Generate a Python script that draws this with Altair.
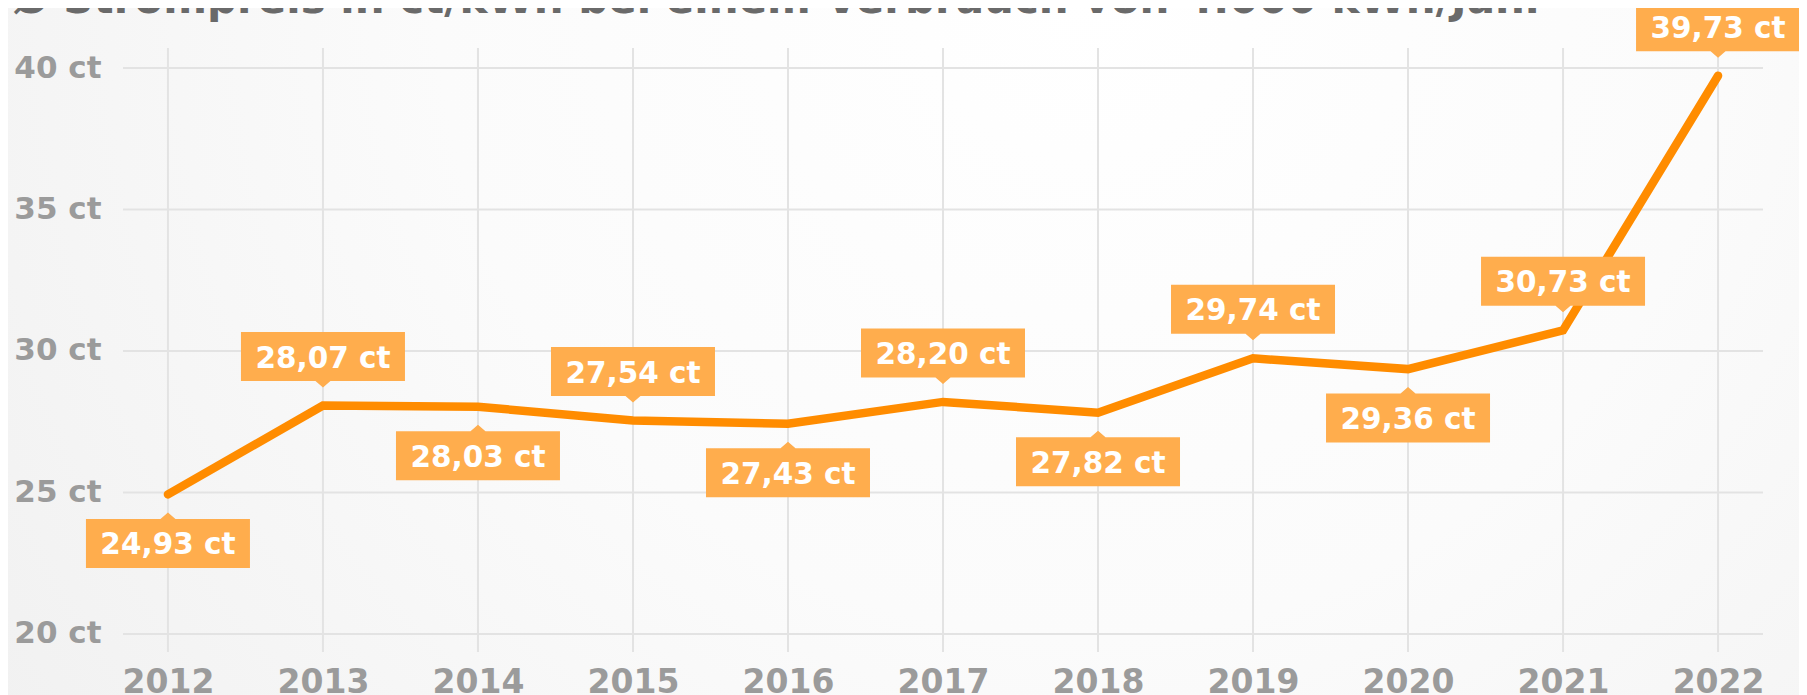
import altair as alt
import pandas as pd

# ---- data ----
years = [2012, 2013, 2014, 2015, 2016, 2017, 2018, 2019, 2020, 2021, 2022]
prices = [24.93, 28.07, 28.03, 27.54, 27.43, 28.20, 27.82, 29.74, 29.36, 30.73, 39.73]
label_side = ["below", "above", "below", "above", "below", "above",
              "below", "above", "below", "above", "above"]
y_ticks = [20, 25, 30, 35, 40]
title_text = "Ø Strompreis in ct/kWh bei einem Verbrauch von 4.000 kWh/Jahr"

df = pd.DataFrame({"year": years, "price": prices, "side": label_side})
df["label"] = [f"{p:.2f}".replace(".", ",") + " ct" for p in prices]
ygrid_df = pd.DataFrame({"price": y_ticks})
xgrid_df = pd.DataFrame({"year": years})

W, H = 1640, 604
PAD = {"left": 115, "top": 40, "right": 36, "bottom": 43}

LINE = "#FF8C00"
BOX = "#FFAD4D"
FONT = "DejaVu Sans"
GRID = "#e3e3e3"

# callout shapes (pixel units: symbol size 4 -> scale 1)
box_below = "M-82,24.5L-7.5,24.5L0,18L7.5,24.5L82,24.5L82,73.5L-82,73.5Z"
box_above = "M-82,-24.5L-7.5,-24.5L0,-18L7.5,-24.5L82,-24.5L82,-73.5L-82,-73.5Z"

x_scale = alt.Scale(domain=[2011.71, 2022.29], nice=False, zero=False)
y_scale = alt.Scale(domain=[19.36, 40.71], nice=False, zero=False)

x_enc = alt.X(
    "year:Q", scale=x_scale,
    axis=alt.Axis(values=years, format="d", title=None, labelPadding=14,
                  labelFontSize=33, labelOverlap=False, labelFlush=False, zindex=2),
)
y_enc = alt.Y(
    "price:Q", scale=y_scale,
    axis=alt.Axis(values=y_ticks, labelExpr="datum.value + ' ct'", title=None,
                  labelFontSize=31, labelPadding=22, labelBaseline="middle", zindex=2),
)

grad = {
    "gradient": "radial",
    "x1": 0.6, "y1": 0.3, "r1": 0,
    "x2": 0.6, "y2": 0.3, "r2": 0.8,
    "stops": [
        {"offset": 0, "color": "#ffffff"},
        {"offset": 0.45, "color": "#fbfbfb"},
        {"offset": 1, "color": "#efefef"},
    ],
}

bg = alt.Chart(pd.DataFrame({"a": [0]})).mark_rect(color=grad).encode(
    x=alt.value(-PAD["left"]), x2=alt.value(W + PAD["right"]),
    y=alt.value(-PAD["top"]), y2=alt.value(H + PAD["bottom"]),
)

hgrid = alt.Chart(ygrid_df).mark_rule(color=GRID, strokeWidth=2).encode(
    y=alt.Y("price:Q", scale=y_scale), x=alt.value(0), x2=alt.value(W)
)
vgrid = alt.Chart(xgrid_df).mark_rule(color=GRID, strokeWidth=2).encode(
    x=alt.X("year:Q", scale=x_scale), y=alt.value(0), y2=alt.value(H)
)

title = alt.Chart(pd.DataFrame({"t": [title_text]})).mark_text(
    align="left", baseline="alphabetic", fontSize=42, fontWeight="bold",
    color="#6a6a6a", font=FONT
).encode(text="t:N", x=alt.value(-110), y=alt.value(-35))

base = alt.Chart(df).encode(x=x_enc, y=y_enc)

line = base.mark_line(color=LINE, strokeWidth=8.5, strokeCap="round", strokeJoin="miter")

boxes = base.mark_point(filled=True, size=4, opacity=1, color=BOX, strokeWidth=0).encode(
    shape=alt.Shape("side:N",
                    scale=alt.Scale(domain=["above", "below"], range=[box_above, box_below]),
                    legend=None)
)

txt_kw = dict(color="white", font=FONT, fontWeight="bold", fontSize=29.5,
              align="center", baseline="alphabetic")
text_below = base.transform_filter(alt.datum.side == "below").mark_text(dy=60, **txt_kw).encode(text="label:N")
text_above = base.transform_filter(alt.datum.side == "above").mark_text(dy=-38, **txt_kw).encode(text="label:N")

chart = (
    alt.layer(bg, title, hgrid, vgrid, line, boxes, text_below, text_above)
    .properties(width=W, height=H, padding=PAD,
                autosize=alt.AutoSizeParams(type="none"),
                background="#f4f4f4")
    .configure_view(strokeWidth=0)
    .configure_axis(domain=False, ticks=False, grid=False,
                    labelColor="#9b9b9b", labelFont=FONT,
                    labelFontWeight="bold")
)

chart.save("out.html", embed_options={"renderer": "svg", "actions": False})
